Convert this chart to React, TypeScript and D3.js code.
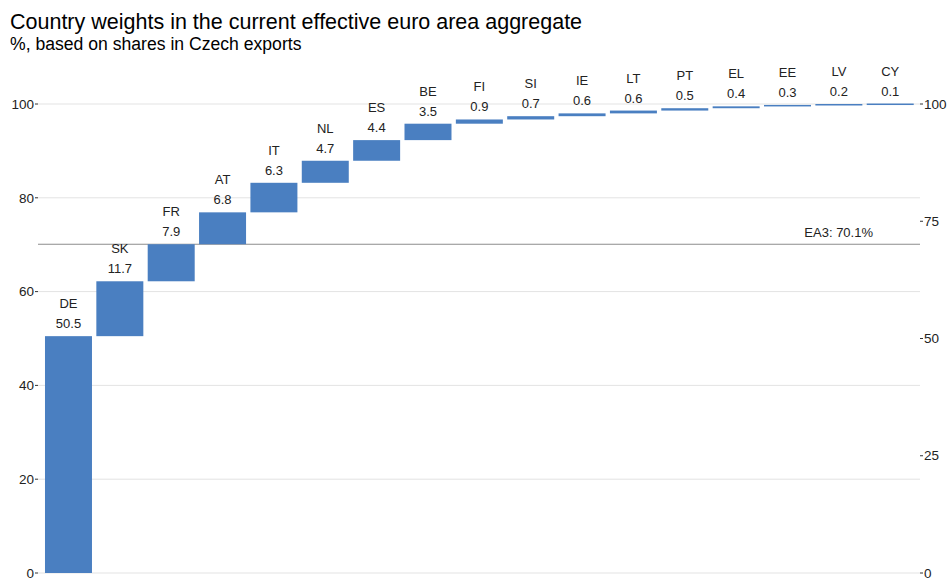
import React from "react";
import * as d3 from "d3";

const countries = ["DE", "SK", "FR", "AT", "IT", "NL", "ES", "BE", "FI", "SI", "IE", "LT", "PT", "EL", "EE", "LV", "CY"];
const weights = [50.5, 11.7, 7.9, 6.8, 6.3, 4.7, 4.4, 3.5, 0.9, 0.7, 0.6, 0.6, 0.5, 0.4, 0.3, 0.2, 0.1];
const leftTicks = [0, 20, 40, 60, 80, 100];
const rightTicks = [0, 25, 50, 75, 100];
const ea3Value = 70.1;
const ea3Label = "EA3: 70.1%";
const title = "Country weights in the current effective euro area aggregate";
const subtitle = "%, based on shares in Czech exports";

const W = 949;
const H = 580;
const FONT = "Liberation Sans, Arial, sans-serif";

export default function App() {
  const y = d3.scaleLinear().domain([0, 100]).range([573, 104]);
  const x = d3.scaleBand<string>().domain(countries).range([42.8, 915.9]).paddingInner(0.085).paddingOuter(0.0425);
  let cum = 0;
  const bars = countries.map((c, i) => {
    const start = cum;
    cum += weights[i];
    return { c, v: weights[i], start, end: cum };
  });
  const gx0 = 38, gx1 = 920;
  return (
    <svg width={W} height={H} style={{ position: "absolute", left: 0, top: 0, fontFamily: FONT }}>
      <rect width={W} height={H} fill="#fff" />
      <text x={10} y={29} fontSize={21.5} fill="#000">{title}</text>
      <text x={10} y={50} fontSize={17.6} fill="#000">{subtitle}</text>
      {leftTicks.map((t) => (
        <g key={"l" + t}>
          <line x1={gx0} x2={gx1} y1={y(t)} y2={y(t)} stroke="#e3e3e3" strokeWidth={1} />
          <line x1={35} x2={38} y1={y(t)} y2={y(t)} stroke="#333" strokeWidth={1} />
          <text x={34} y={y(t)} dy="0.35em" textAnchor="end" fontSize={13.5} fill="#222">{t}</text>
        </g>
      ))}
      {rightTicks.map((t) => (
        <g key={"r" + t}>
          <line x1={920} x2={923} y1={y(t)} y2={y(t)} stroke="#333" strokeWidth={1} />
          <text x={924} y={y(t)} dy="0.35em" textAnchor="start" fontSize={13.5} fill="#222">{t}</text>
        </g>
      ))}
      <line x1={gx0} x2={gx1} y1={y(ea3Value)} y2={y(ea3Value)} stroke="#8c8c8c" strokeWidth={1.2} />
      <text x={873} y={y(ea3Value) - 7} textAnchor="end" fontSize={13} fill="#222">{ea3Label}</text>
      {bars.map((b) => {
        const top = y(Math.min(b.end, 100.1));
        const bottom = y(b.start);
        const cx = (x(b.c) as number) + x.bandwidth() / 2;
        return (
          <g key={b.c}>
            <rect x={x(b.c)} y={top} width={x.bandwidth()} height={Math.max(1.5, bottom - top)} fill="#4a7fc1" />
            <text x={cx} y={top - 28} textAnchor="middle" fontSize={13} fill="#222">{b.c}</text>
            <text x={cx} y={top - 8} textAnchor="middle" fontSize={13} fill="#222">{b.v.toFixed(1)}</text>
          </g>
        );
      })}
    </svg>
  );
}
